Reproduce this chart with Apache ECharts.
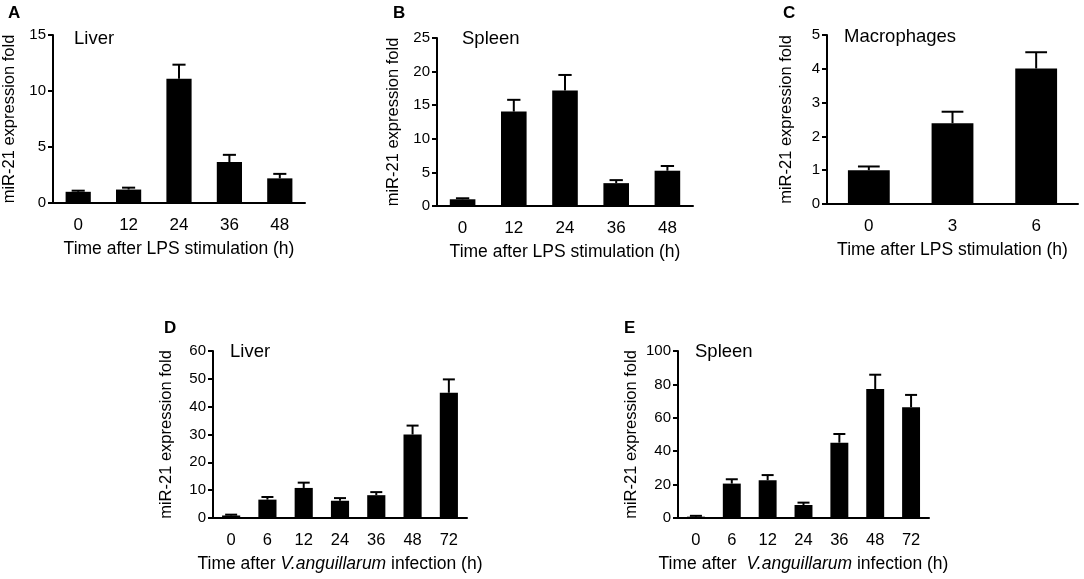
<!DOCTYPE html>
<html>
<head>
<meta charset="utf-8">
<script src="https://cdn.jsdelivr.net/npm/echarts@6/dist/echarts.min.js"></script>
<style>
  html, body { margin: 0; padding: 0; background: #fff; }
  #chart { width: 1084px; height: 579px; }
</style>
</head>
<body>
<div id="chart"></div>
<script>
// categories (h)
const lpsHours = ['0', '12', '24', '36', '48'];
const macroHours = ['0', '3', '6'];
const infHours = ['0', '6', '12', '24', '36', '48', '72'];

// A - liver, LPS
const liverLpsMean = [1.0, 1.2, 11.1, 3.65, 2.2];
const liverLpsErr = [0.1, 0.17, 1.25, 0.65, 0.4];
// B - spleen, LPS
const spleenLpsMean = [1.0, 14.05, 17.2, 3.4, 5.25];
const spleenLpsErr = [0.15, 1.75, 2.3, 0.45, 0.7];
// C - macrophages, LPS
const macroMean = [1.0, 2.39, 4.01];
const macroErr = [0.11, 0.34, 0.48];
// D - liver, infection
const liverInfMean = [0.9, 6.6, 10.8, 6.2, 8.2, 30.0, 45.0];
const liverInfErr = [0.3, 0.95, 1.9, 0.95, 1.1, 3.2, 4.8];
// E - spleen, infection
const spleenInfMean = [0.8, 20.6, 22.6, 7.8, 45.1, 77.2, 66.3];
const spleenInfErr = [0.5, 2.6, 3.1, 1.4, 5.2, 8.6, 7.4];

const FONT = 'Arial, "Liberation Sans", sans-serif';

const panels = [
    { letter: 'A', tissue: 'Liver', cats: lpsHours, mean: liverLpsMean, err: liverLpsErr,
      max: 15, interval: 5, grid: { left: 53, top: 35, width: 252, height: 168 },
      xName: 'Time after LPS stimulation (h)', yGap: 35, tickSize: 17,
      letterPos: [8, 5], tissuePos: [74, 29] },
    { letter: 'B', tissue: 'Spleen', cats: lpsHours, mean: spleenLpsMean, err: spleenLpsErr,
      max: 25, interval: 5, grid: { left: 437, top: 38, width: 256, height: 168 },
      xName: 'Time after LPS stimulation (h)', yGap: 35, tickSize: 17,
      letterPos: [393, 5], tissuePos: [462, 29] },
    { letter: 'C', tissue: 'Macrophages', cats: macroHours, mean: macroMean, err: macroErr,
      max: 5, interval: 1, grid: { left: 827, top: 35, width: 251, height: 169 },
      xName: 'Time after LPS stimulation (h)', yGap: 32, tickSize: 17,
      letterPos: [783, 5], tissuePos: [844, 27] },
    { letter: 'D', tissue: 'Liver', cats: infHours, mean: liverInfMean, err: liverInfErr,
      max: 60, interval: 10, grid: { left: 213, top: 351, width: 254, height: 167 },
      xName: 'Time after {i|V.anguillarum} infection (h)', yGap: 38, tickSize: 16.5,
      letterPos: [164, 320], tissuePos: [230, 342] },
    { letter: 'E', tissue: 'Spleen', cats: infHours, mean: spleenInfMean, err: spleenInfErr,
      max: 100, interval: 20, grid: { left: 678, top: 351, width: 251, height: 167 },
      xName: 'Time after  {i|V.anguillarum} infection (h)', yGap: 38, tickSize: 16.5,
      letterPos: [624, 320], tissuePos: [695, 342] }
];

function renderErrorBar(params, api) {
    const i = api.value(0);
    const m = api.value(1);
    const e = api.value(2);
    const base = api.coord([i, m]);
    const top = api.coord([i, m + e]);
    const half = Math.max(api.size([1, 0])[0] * 0.13, 6);
    const style = { stroke: '#000', lineWidth: 2 };
    return {
        type: 'group',
        children: [
            { type: 'line', shape: { x1: base[0], y1: base[1], x2: top[0], y2: top[1] }, style: style },
            { type: 'line', shape: { x1: top[0] - half, y1: top[1], x2: top[0] + half, y2: top[1] }, style: style }
        ]
    };
}

const grids = [], xAxes = [], yAxes = [], series = [], graphics = [];

panels.forEach((p, k) => {
    grids.push(p.grid);
    xAxes.push({
        type: 'category',
        gridIndex: k,
        data: p.cats,
        name: p.xName,
        nameLocation: 'middle',
        nameGap: 37,
        nameTextStyle: {
            color: '#000', fontSize: 17.5, fontFamily: FONT, verticalAlign: 'top',
            rich: { i: { fontStyle: 'italic', fontSize: 17.5, fontFamily: FONT, color: '#000' } }
        },
        axisLine: { lineStyle: { color: '#000', width: 2 } },
        axisTick: { alignWithLabel: true, length: 5, lineStyle: { color: '#000', width: 2 } },
        axisLabel: { color: '#000', fontSize: p.tickSize, fontFamily: FONT, margin: 14 }
    });
    yAxes.push({
        type: 'value',
        gridIndex: k,
        min: 0,
        max: p.max,
        interval: p.interval,
        name: 'miR-21 expression fold',
        nameLocation: 'middle',
        nameRotate: 90,
        nameGap: p.yGap,
        nameTextStyle: { color: '#000', fontSize: 16.5, fontFamily: FONT },
        axisLine: { show: true, lineStyle: { color: '#000', width: 2 } },
        axisTick: { show: true, length: 5, lineStyle: { color: '#000', width: 2 } },
        axisLabel: { color: '#000', fontSize: 15, fontFamily: FONT, margin: 7 },
        splitLine: { show: false }
    });
    series.push({
        type: 'bar',
        xAxisIndex: k,
        yAxisIndex: k,
        data: p.mean,
        barCategoryGap: '50%',
        itemStyle: { color: '#000' },
        silent: true
    });
    series.push({
        type: 'custom',
        xAxisIndex: k,
        yAxisIndex: k,
        renderItem: renderErrorBar,
        encode: { x: 0, y: 1 },
        data: p.mean.map((m, i) => [i, m, p.err[i]]),
        silent: true,
        z: 3
    });
    graphics.push({
        type: 'text', left: p.letterPos[0], top: p.letterPos[1],
        style: { text: p.letter, font: 'bold 17px ' + FONT, fill: '#000' }
    });
    graphics.push({
        type: 'text', left: p.tissuePos[0], top: p.tissuePos[1],
        style: { text: p.tissue, font: '18.5px ' + FONT, fill: '#000' }
    });
});

const chart = echarts.init(document.getElementById('chart'));
chart.setOption({
    animation: false,
    backgroundColor: '#fff',
    grid: grids,
    xAxis: xAxes,
    yAxis: yAxes,
    series: series,
    graphic: graphics
});
</script>
</body>
</html>
